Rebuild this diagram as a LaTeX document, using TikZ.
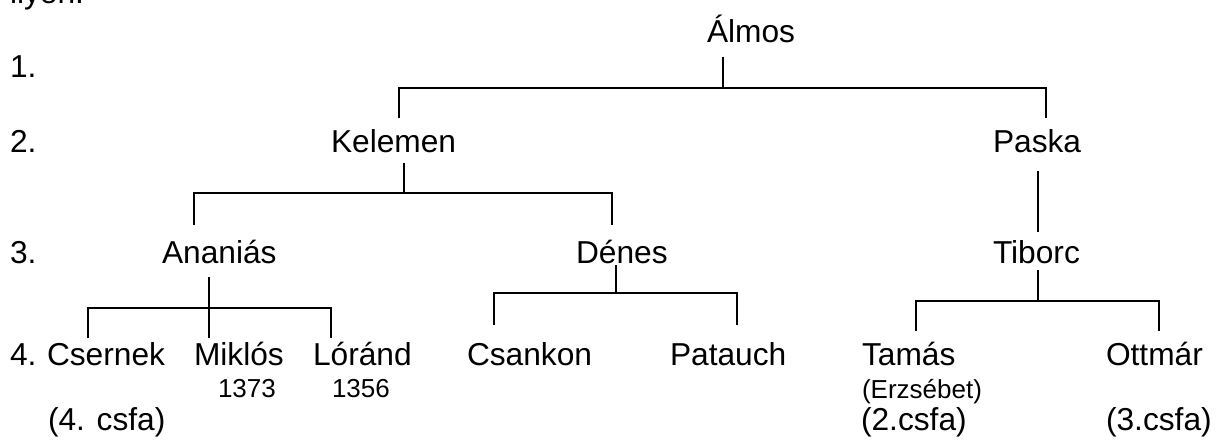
\documentclass[tikz,border=0pt]{standalone}
\usepackage{fontspec}
\setmainfont{Liberation Sans}
\begin{document}
\begin{tikzpicture}[x=1pt,y=-1pt,
  lbl/.style={anchor=base west,inner sep=0pt,outer sep=0pt,font=\fontsize{31.7}{38}\selectfont},
  small/.style={anchor=base west,inner sep=0pt,outer sep=0pt,font=\fontsize{26}{31}\selectfont},
  link/.style={line width=1.8pt,line cap=butt}]
\useasboundingbox (0,0) rectangle (1217,439);
% level labels
\node[lbl] (ilyen) at (10,3) {ilyen.};
\node[lbl] (l1) at (10,77) {1.};
\node[lbl] (l2) at (10,152) {2.};
\node[lbl] (l3) at (10,263) {3.};
\node[lbl] (l4) at (10,365) {4.};
% people
\node[lbl] (almos) at (707,42) {Álmos};
\node[lbl] (kelemen) at (331,152) {Kelemen};
\node[lbl] (paska) at (993,152) {Paska};
\node[lbl] (anan) at (162,263) {Ananiás};
\node[lbl] (denes) at (576,263) {Dénes};
\node[lbl] (tiborc) at (993,263) {Tiborc};
\node[lbl] (csernek) at (47,365) {Csernek};
\node[lbl] (miklos) at (194,365) {Miklós};
\node[lbl] (lorand) at (313,365) {Lóránd};
\node[lbl] (csankon) at (467,365) {Csankon};
\node[lbl] (patauch) at (670,365) {Patauch};
\node[lbl] (tamas) at (862,365) {Tamás};
\node[lbl] (ottmar) at (1106,365) {Ottmár};
\node[small] (y1373) at (218,397) {1373};
\node[small] (y1356) at (332,397) {1356};
\node[small] (erzs) at (862,398) {(Erzsébet)};
\node[lbl] (cs4) at (48,430) {(4. csfa)};
\node[lbl] (cs2) at (861,430) {(2.csfa)};
\node[lbl] (cs3) at (1106,430) {(3.csfa)};
% bracket coordinates
\coordinate (a0) at (723,57);  \coordinate (a1) at (723,88);
\coordinate (aL) at (399,88);  \coordinate (aR) at (1046,88);
\coordinate (aLd) at (399,118); \coordinate (aRd) at (1046,118);
\coordinate (k0) at (404,163); \coordinate (k1) at (404,193);
\coordinate (kL) at (194,193); \coordinate (kR) at (612,193);
\coordinate (kLd) at (194,225); \coordinate (kRd) at (612,225);
\coordinate (p0) at (1038,171); \coordinate (p1) at (1038,232);
\coordinate (n0) at (209,277); \coordinate (n1) at (209,338);
\coordinate (nL) at (88,308); \coordinate (nR) at (331,308);
\coordinate (nLd) at (88,338); \coordinate (nRd) at (331,338);
\coordinate (d0) at (616,265); \coordinate (d1) at (616,293);
\coordinate (dL) at (494,293); \coordinate (dR) at (737,293);
\coordinate (dLd) at (494,325); \coordinate (dRd) at (737,325);
\coordinate (t0) at (1038,270); \coordinate (t1) at (1038,301);
\coordinate (tL) at (916,301); \coordinate (tR) at (1159,301);
\coordinate (tLd) at (916,331); \coordinate (tRd) at (1159,331);
% connectors
\draw[link] (a0) -- (a1);
\draw[link] (aLd) -- (aL) -- (aR) -- (aRd);
\draw[link] (k0) -- (k1);
\draw[link] (kLd) -- (kL) -- (kR) -- (kRd);
\draw[link] (p0) -- (p1);
\draw[link] (n0) -- (n1);
\draw[link] (nLd) -- (nL) -- (nR) -- (nRd);
\draw[link] (d0) -- (d1);
\draw[link] (dLd) -- (dL) -- (dR) -- (dRd);
\draw[link] (t0) -- (t1);
\draw[link] (tLd) -- (tL) -- (tR) -- (tRd);
\end{tikzpicture}
\end{document}
